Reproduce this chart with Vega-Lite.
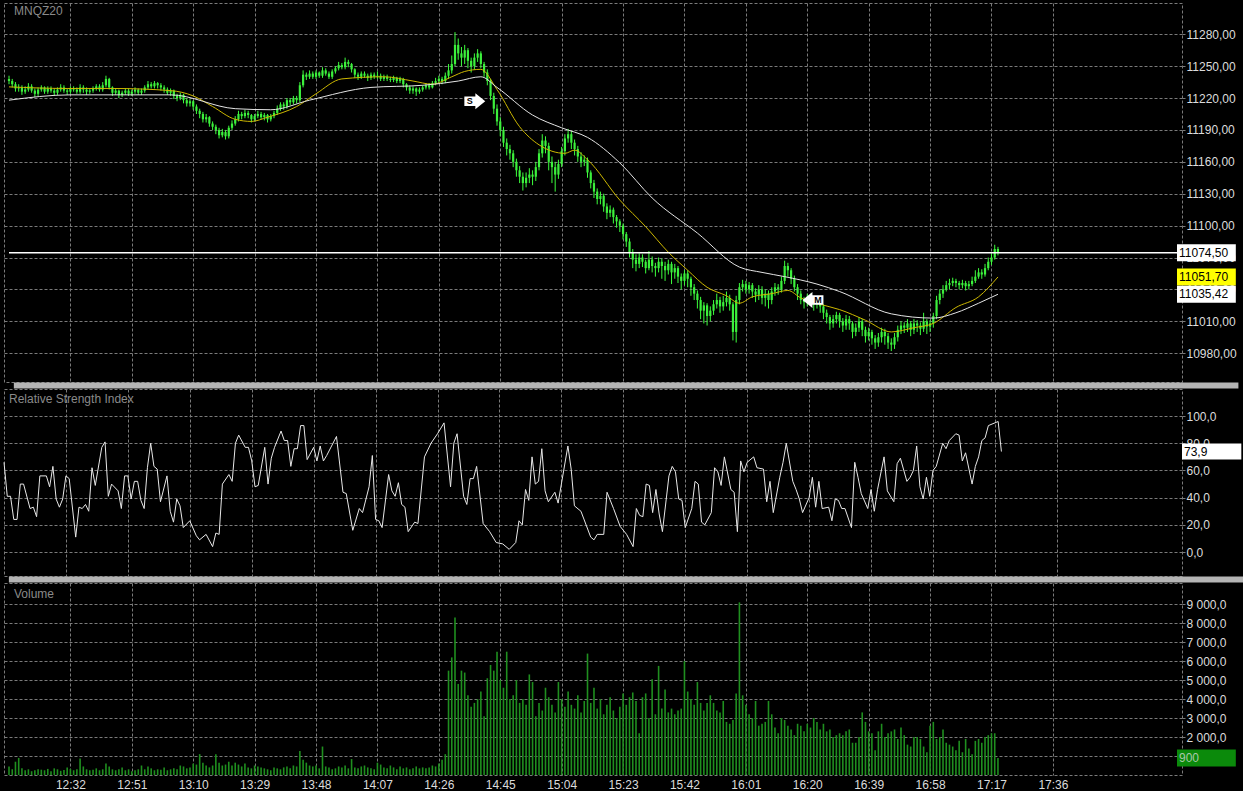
{
"$schema": "https://vega.github.io/schema/vega-lite/v6.json",
"background": "#000000",
"padding": {"left": 1, "top": 2, "right": 0, "bottom": 0},
"bounds": "flush",
"spacing": 7,
"config": {
  "view": {"stroke": "#7a7a7a", "strokeDash": [3, 2], "strokeWidth": 1},
  "axis": {"gridColor": "#7a7a7a", "gridDash": [3, 2], "gridWidth": 1, "gridOpacity": 1, "labelFont": "Liberation Sans", "labelFontSize": 12, "labelColor": "#dcdcdc", "domain": false, "ticks": false, "labelFlush": false, "labelOverlap": false, "labelBound": false},
  "text": {"font": "Liberation Sans"}
},
"datasets": {
"candles": [
{"t":733,"o":11238,"h":11241,"l":11233,"c":11236,"v":450},
{"t":734,"o":11236,"h":11238,"l":11230,"c":11233,"v":300},
{"t":735,"o":11233,"h":11235,"l":11226,"c":11229,"v":700},
{"t":736,"o":11229,"h":11233,"l":11226,"c":11230,"v":900},
{"t":737,"o":11230,"h":11232,"l":11223,"c":11226,"v":350},
{"t":738,"o":11226,"h":11231,"l":11224,"c":11228,"v":250},
{"t":739,"o":11228,"h":11234,"l":11226,"c":11231,"v":300},
{"t":740,"o":11231,"h":11233,"l":11225,"c":11227,"v":200},
{"t":741,"o":11227,"h":11229,"l":11221,"c":11224,"v":250},
{"t":742,"o":11224,"h":11230,"l":11222,"c":11228,"v":300},
{"t":743,"o":11228,"h":11232,"l":11226,"c":11230,"v":280},
{"t":744,"o":11230,"h":11231,"l":11224,"c":11226,"v":250},
{"t":745,"o":11226,"h":11231,"l":11224,"c":11229,"v":320},
{"t":746,"o":11229,"h":11231,"l":11225,"c":11227,"v":200},
{"t":747,"o":11227,"h":11229,"l":11222,"c":11225,"v":350},
{"t":748,"o":11225,"h":11230,"l":11223,"c":11228,"v":300},
{"t":749,"o":11228,"h":11233,"l":11226,"c":11230,"v":220},
{"t":750,"o":11230,"h":11232,"l":11225,"c":11227,"v":260},
{"t":751,"o":11227,"h":11229,"l":11223,"c":11226,"v":400},
{"t":752,"o":11226,"h":11231,"l":11224,"c":11229,"v":320},
{"t":753,"o":11229,"h":11231,"l":11226,"c":11228,"v":250},
{"t":754,"o":11228,"h":11230,"l":11224,"c":11226,"v":300},
{"t":755,"o":11226,"h":11233,"l":11224,"c":11230,"v":870},
{"t":756,"o":11230,"h":11232,"l":11225,"c":11228,"v":450},
{"t":757,"o":11228,"h":11230,"l":11223,"c":11226,"v":300},
{"t":758,"o":11226,"h":11229,"l":11224,"c":11227,"v":250},
{"t":759,"o":11227,"h":11231,"l":11225,"c":11229,"v":280},
{"t":760,"o":11229,"h":11233,"l":11227,"c":11231,"v":350},
{"t":761,"o":11231,"h":11233,"l":11226,"c":11228,"v":250},
{"t":762,"o":11228,"h":11235,"l":11226,"c":11232,"v":300},
{"t":763,"o":11232,"h":11241,"l":11230,"c":11238,"v":600},
{"t":764,"o":11238,"h":11239,"l":11228,"c":11230,"v":450},
{"t":765,"o":11230,"h":11231,"l":11222,"c":11225,"v":300},
{"t":766,"o":11225,"h":11229,"l":11223,"c":11227,"v":250},
{"t":767,"o":11227,"h":11228,"l":11220,"c":11223,"v":300},
{"t":768,"o":11223,"h":11227,"l":11221,"c":11225,"v":400},
{"t":769,"o":11225,"h":11229,"l":11223,"c":11227,"v":250},
{"t":770,"o":11227,"h":11229,"l":11222,"c":11224,"v":300},
{"t":771,"o":11224,"h":11228,"l":11222,"c":11226,"v":200},
{"t":772,"o":11226,"h":11230,"l":11224,"c":11228,"v":250},
{"t":773,"o":11228,"h":11229,"l":11223,"c":11225,"v":300},
{"t":774,"o":11225,"h":11229,"l":11223,"c":11227,"v":500},
{"t":775,"o":11227,"h":11232,"l":11225,"c":11230,"v":300},
{"t":776,"o":11230,"h":11236,"l":11228,"c":11233,"v":450},
{"t":777,"o":11233,"h":11235,"l":11229,"c":11231,"v":350},
{"t":778,"o":11231,"h":11236,"l":11229,"c":11234,"v":250},
{"t":779,"o":11234,"h":11235,"l":11229,"c":11232,"v":300},
{"t":780,"o":11232,"h":11234,"l":11227,"c":11230,"v":280},
{"t":781,"o":11230,"h":11232,"l":11225,"c":11228,"v":400},
{"t":782,"o":11228,"h":11230,"l":11223,"c":11225,"v":250},
{"t":783,"o":11225,"h":11229,"l":11222,"c":11227,"v":300},
{"t":784,"o":11227,"h":11228,"l":11219,"c":11222,"v":350},
{"t":785,"o":11222,"h":11224,"l":11217,"c":11220,"v":300},
{"t":786,"o":11220,"h":11225,"l":11218,"c":11223,"v":500},
{"t":787,"o":11223,"h":11224,"l":11215,"c":11218,"v":450},
{"t":788,"o":11218,"h":11220,"l":11212,"c":11215,"v":350},
{"t":789,"o":11215,"h":11219,"l":11212,"c":11217,"v":400},
{"t":790,"o":11217,"h":11218,"l":11209,"c":11212,"v":600},
{"t":791,"o":11212,"h":11214,"l":11205,"c":11208,"v":550},
{"t":792,"o":11208,"h":11210,"l":11201,"c":11205,"v":1100},
{"t":793,"o":11205,"h":11207,"l":11197,"c":11200,"v":650},
{"t":794,"o":11200,"h":11205,"l":11197,"c":11202,"v":500},
{"t":795,"o":11202,"h":11203,"l":11193,"c":11196,"v":400},
{"t":796,"o":11196,"h":11198,"l":11190,"c":11193,"v":500},
{"t":797,"o":11193,"h":11195,"l":11186,"c":11190,"v":1100},
{"t":798,"o":11190,"h":11192,"l":11182,"c":11185,"v":650},
{"t":799,"o":11185,"h":11191,"l":11183,"c":11188,"v":500},
{"t":800,"o":11188,"h":11190,"l":11181,"c":11184,"v":550},
{"t":801,"o":11184,"h":11194,"l":11182,"c":11192,"v":700},
{"t":802,"o":11192,"h":11199,"l":11190,"c":11196,"v":500},
{"t":803,"o":11196,"h":11203,"l":11194,"c":11200,"v":650},
{"t":804,"o":11200,"h":11208,"l":11198,"c":11205,"v":550},
{"t":805,"o":11205,"h":11207,"l":11200,"c":11203,"v":450},
{"t":806,"o":11203,"h":11209,"l":11201,"c":11206,"v":600},
{"t":807,"o":11206,"h":11208,"l":11201,"c":11204,"v":400},
{"t":808,"o":11204,"h":11205,"l":11197,"c":11200,"v":350},
{"t":809,"o":11200,"h":11205,"l":11198,"c":11203,"v":500},
{"t":810,"o":11203,"h":11208,"l":11201,"c":11205,"v":450},
{"t":811,"o":11205,"h":11207,"l":11200,"c":11202,"v":400},
{"t":812,"o":11202,"h":11206,"l":11199,"c":11204,"v":350},
{"t":813,"o":11204,"h":11205,"l":11197,"c":11200,"v":300},
{"t":814,"o":11200,"h":11205,"l":11198,"c":11203,"v":250},
{"t":815,"o":11203,"h":11208,"l":11201,"c":11206,"v":400},
{"t":816,"o":11206,"h":11213,"l":11204,"c":11210,"v":350},
{"t":817,"o":11210,"h":11216,"l":11208,"c":11214,"v":300},
{"t":818,"o":11214,"h":11216,"l":11209,"c":11212,"v":400},
{"t":819,"o":11212,"h":11220,"l":11210,"c":11218,"v":450},
{"t":820,"o":11218,"h":11220,"l":11213,"c":11216,"v":350},
{"t":821,"o":11216,"h":11222,"l":11214,"c":11220,"v":500},
{"t":822,"o":11220,"h":11222,"l":11215,"c":11218,"v":450},
{"t":823,"o":11218,"h":11235,"l":11216,"c":11232,"v":1270},
{"t":824,"o":11232,"h":11246,"l":11230,"c":11242,"v":800},
{"t":825,"o":11242,"h":11244,"l":11237,"c":11240,"v":650},
{"t":826,"o":11240,"h":11246,"l":11238,"c":11243,"v":500},
{"t":827,"o":11243,"h":11245,"l":11238,"c":11240,"v":450},
{"t":828,"o":11240,"h":11246,"l":11238,"c":11244,"v":500},
{"t":829,"o":11244,"h":11245,"l":11239,"c":11241,"v":350},
{"t":830,"o":11241,"h":11249,"l":11239,"c":11246,"v":1500},
{"t":831,"o":11246,"h":11248,"l":11241,"c":11243,"v":450},
{"t":832,"o":11243,"h":11245,"l":11238,"c":11240,"v":400},
{"t":833,"o":11240,"h":11247,"l":11238,"c":11245,"v":300},
{"t":834,"o":11245,"h":11250,"l":11243,"c":11248,"v":350},
{"t":835,"o":11248,"h":11254,"l":11246,"c":11251,"v":450},
{"t":836,"o":11251,"h":11253,"l":11247,"c":11249,"v":400},
{"t":837,"o":11249,"h":11258,"l":11247,"c":11254,"v":500},
{"t":838,"o":11254,"h":11256,"l":11249,"c":11252,"v":350},
{"t":839,"o":11252,"h":11253,"l":11244,"c":11247,"v":840},
{"t":840,"o":11247,"h":11248,"l":11239,"c":11242,"v":400},
{"t":841,"o":11242,"h":11244,"l":11237,"c":11240,"v":350},
{"t":842,"o":11240,"h":11245,"l":11238,"c":11243,"v":450},
{"t":843,"o":11243,"h":11245,"l":11239,"c":11241,"v":500},
{"t":844,"o":11241,"h":11243,"l":11236,"c":11239,"v":400},
{"t":845,"o":11239,"h":11244,"l":11237,"c":11242,"v":350},
{"t":846,"o":11242,"h":11244,"l":11238,"c":11240,"v":300},
{"t":847,"o":11240,"h":11245,"l":11238,"c":11241,"v":650},
{"t":848,"o":11241,"h":11243,"l":11236,"c":11238,"v":550},
{"t":849,"o":11238,"h":11242,"l":11236,"c":11240,"v":400},
{"t":850,"o":11240,"h":11242,"l":11236,"c":11238,"v":350},
{"t":851,"o":11238,"h":11240,"l":11235,"c":11237,"v":500},
{"t":852,"o":11237,"h":11241,"l":11235,"c":11239,"v":400},
{"t":853,"o":11239,"h":11240,"l":11234,"c":11236,"v":300},
{"t":854,"o":11236,"h":11240,"l":11234,"c":11238,"v":450},
{"t":855,"o":11238,"h":11239,"l":11230,"c":11233,"v":350},
{"t":856,"o":11233,"h":11234,"l":11227,"c":11230,"v":400},
{"t":857,"o":11230,"h":11232,"l":11224,"c":11227,"v":300},
{"t":858,"o":11227,"h":11231,"l":11224,"c":11229,"v":350},
{"t":859,"o":11229,"h":11230,"l":11222,"c":11226,"v":450},
{"t":860,"o":11226,"h":11230,"l":11224,"c":11228,"v":350},
{"t":861,"o":11228,"h":11232,"l":11226,"c":11230,"v":400},
{"t":862,"o":11230,"h":11234,"l":11228,"c":11232,"v":350},
{"t":863,"o":11232,"h":11234,"l":11228,"c":11230,"v":400},
{"t":864,"o":11230,"h":11236,"l":11229,"c":11234,"v":500},
{"t":865,"o":11234,"h":11239,"l":11232,"c":11236,"v":450},
{"t":866,"o":11236,"h":11241,"l":11234,"c":11238,"v":600},
{"t":867,"o":11238,"h":11240,"l":11233,"c":11236,"v":800},
{"t":868,"o":11236,"h":11244,"l":11234,"c":11241,"v":1100},
{"t":869,"o":11241,"h":11252,"l":11238,"c":11246,"v":5500},
{"t":870,"o":11246,"h":11260,"l":11243,"c":11252,"v":6200},
{"t":871,"o":11252,"h":11282,"l":11250,"c":11270,"v":8300},
{"t":872,"o":11270,"h":11276,"l":11256,"c":11262,"v":4800},
{"t":873,"o":11262,"h":11268,"l":11250,"c":11258,"v":5500},
{"t":874,"o":11258,"h":11270,"l":11252,"c":11265,"v":5400},
{"t":875,"o":11265,"h":11267,"l":11248,"c":11255,"v":4200},
{"t":876,"o":11255,"h":11258,"l":11244,"c":11250,"v":3600},
{"t":877,"o":11250,"h":11262,"l":11247,"c":11258,"v":3800},
{"t":878,"o":11258,"h":11266,"l":11254,"c":11262,"v":4000},
{"t":879,"o":11262,"h":11264,"l":11248,"c":11252,"v":4400},
{"t":880,"o":11252,"h":11254,"l":11240,"c":11244,"v":3100},
{"t":881,"o":11244,"h":11247,"l":11232,"c":11236,"v":5100},
{"t":882,"o":11236,"h":11238,"l":11218,"c":11222,"v":5800},
{"t":883,"o":11222,"h":11225,"l":11205,"c":11210,"v":5500},
{"t":884,"o":11210,"h":11214,"l":11194,"c":11198,"v":6500},
{"t":885,"o":11198,"h":11202,"l":11184,"c":11190,"v":5000},
{"t":886,"o":11190,"h":11193,"l":11174,"c":11178,"v":4600},
{"t":887,"o":11178,"h":11182,"l":11166,"c":11172,"v":6500},
{"t":888,"o":11172,"h":11176,"l":11162,"c":11168,"v":4000},
{"t":889,"o":11168,"h":11171,"l":11155,"c":11160,"v":4200},
{"t":890,"o":11160,"h":11163,"l":11146,"c":11152,"v":5000},
{"t":891,"o":11152,"h":11156,"l":11140,"c":11146,"v":3800},
{"t":892,"o":11146,"h":11150,"l":11133,"c":11140,"v":4000},
{"t":893,"o":11140,"h":11150,"l":11136,"c":11145,"v":3700},
{"t":894,"o":11145,"h":11154,"l":11140,"c":11148,"v":5300},
{"t":895,"o":11148,"h":11152,"l":11138,"c":11146,"v":4900},
{"t":896,"o":11146,"h":11160,"l":11142,"c":11155,"v":3100},
{"t":897,"o":11155,"h":11172,"l":11152,"c":11168,"v":3800},
{"t":898,"o":11168,"h":11186,"l":11164,"c":11180,"v":3400},
{"t":899,"o":11180,"h":11184,"l":11168,"c":11175,"v":4600},
{"t":900,"o":11175,"h":11178,"l":11152,"c":11160,"v":4100},
{"t":901,"o":11160,"h":11165,"l":11140,"c":11155,"v":3700},
{"t":902,"o":11155,"h":11160,"l":11132,"c":11148,"v":3300},
{"t":903,"o":11148,"h":11162,"l":11144,"c":11158,"v":4900},
{"t":904,"o":11158,"h":11174,"l":11155,"c":11170,"v":4000},
{"t":905,"o":11170,"h":11186,"l":11166,"c":11182,"v":3600},
{"t":906,"o":11182,"h":11191,"l":11178,"c":11186,"v":4400},
{"t":907,"o":11186,"h":11189,"l":11172,"c":11178,"v":3700},
{"t":908,"o":11178,"h":11181,"l":11166,"c":11172,"v":3500},
{"t":909,"o":11172,"h":11175,"l":11160,"c":11165,"v":4200},
{"t":910,"o":11165,"h":11169,"l":11155,"c":11160,"v":3300},
{"t":911,"o":11160,"h":11166,"l":11156,"c":11162,"v":3900},
{"t":912,"o":11162,"h":11164,"l":11145,"c":11150,"v":6400},
{"t":913,"o":11150,"h":11152,"l":11135,"c":11140,"v":3800},
{"t":914,"o":11140,"h":11143,"l":11126,"c":11132,"v":4600},
{"t":915,"o":11132,"h":11135,"l":11120,"c":11125,"v":3500},
{"t":916,"o":11125,"h":11132,"l":11120,"c":11128,"v":4000},
{"t":917,"o":11128,"h":11130,"l":11113,"c":11118,"v":3200},
{"t":918,"o":11118,"h":11121,"l":11106,"c":11112,"v":3700},
{"t":919,"o":11112,"h":11119,"l":11108,"c":11115,"v":4100},
{"t":920,"o":11115,"h":11117,"l":11102,"c":11108,"v":3400},
{"t":921,"o":11108,"h":11110,"l":11098,"c":11104,"v":3000},
{"t":922,"o":11104,"h":11106,"l":11094,"c":11100,"v":3600},
{"t":923,"o":11100,"h":11102,"l":11087,"c":11092,"v":4300},
{"t":924,"o":11092,"h":11094,"l":11080,"c":11085,"v":3700},
{"t":925,"o":11085,"h":11088,"l":11070,"c":11075,"v":4100},
{"t":926,"o":11075,"h":11078,"l":11060,"c":11068,"v":4350},
{"t":927,"o":11068,"h":11073,"l":11057,"c":11064,"v":3900},
{"t":928,"o":11064,"h":11074,"l":11060,"c":11070,"v":2200},
{"t":929,"o":11070,"h":11073,"l":11061,"c":11066,"v":4100},
{"t":930,"o":11066,"h":11068,"l":11055,"c":11060,"v":4300},
{"t":931,"o":11060,"h":11076,"l":11058,"c":11068,"v":3000},
{"t":932,"o":11068,"h":11071,"l":11056,"c":11062,"v":5050},
{"t":933,"o":11062,"h":11065,"l":11052,"c":11060,"v":3200},
{"t":934,"o":11060,"h":11070,"l":11056,"c":11066,"v":5750},
{"t":935,"o":11066,"h":11069,"l":11050,"c":11062,"v":3500},
{"t":936,"o":11062,"h":11066,"l":11048,"c":11058,"v":4500},
{"t":937,"o":11058,"h":11068,"l":11054,"c":11064,"v":3300},
{"t":938,"o":11064,"h":11066,"l":11045,"c":11056,"v":3500},
{"t":939,"o":11056,"h":11064,"l":11050,"c":11060,"v":3200},
{"t":940,"o":11060,"h":11062,"l":11046,"c":11052,"v":3400},
{"t":941,"o":11052,"h":11055,"l":11040,"c":11048,"v":3500},
{"t":942,"o":11048,"h":11058,"l":11044,"c":11055,"v":6000},
{"t":943,"o":11055,"h":11058,"l":11042,"c":11050,"v":4400},
{"t":944,"o":11050,"h":11052,"l":11034,"c":11042,"v":4000},
{"t":945,"o":11042,"h":11045,"l":11030,"c":11036,"v":3700},
{"t":946,"o":11036,"h":11039,"l":11022,"c":11030,"v":4900},
{"t":947,"o":11030,"h":11033,"l":11012,"c":11020,"v":3800},
{"t":948,"o":11020,"h":11028,"l":11008,"c":11025,"v":3400},
{"t":949,"o":11025,"h":11027,"l":11006,"c":11015,"v":3800},
{"t":950,"o":11015,"h":11024,"l":11010,"c":11020,"v":4200},
{"t":951,"o":11020,"h":11030,"l":11016,"c":11026,"v":3800},
{"t":952,"o":11026,"h":11036,"l":11022,"c":11030,"v":3400},
{"t":953,"o":11030,"h":11033,"l":11018,"c":11024,"v":3300},
{"t":954,"o":11024,"h":11034,"l":11020,"c":11028,"v":3900},
{"t":955,"o":11028,"h":11038,"l":11024,"c":11032,"v":2800},
{"t":956,"o":11032,"h":11035,"l":11020,"c":11026,"v":2700},
{"t":957,"o":11026,"h":11028,"l":10992,"c":11000,"v":2900},
{"t":958,"o":11000,"h":11034,"l":10990,"c":11030,"v":4300},
{"t":959,"o":11030,"h":11046,"l":11026,"c":11042,"v":9100},
{"t":960,"o":11042,"h":11049,"l":11038,"c":11045,"v":4200},
{"t":961,"o":11045,"h":11048,"l":11036,"c":11040,"v":3700},
{"t":962,"o":11040,"h":11047,"l":11036,"c":11044,"v":3200},
{"t":963,"o":11044,"h":11046,"l":11032,"c":11038,"v":3000},
{"t":964,"o":11038,"h":11041,"l":11028,"c":11035,"v":3900},
{"t":965,"o":11035,"h":11044,"l":11030,"c":11040,"v":2600},
{"t":966,"o":11040,"h":11043,"l":11026,"c":11032,"v":2700},
{"t":967,"o":11032,"h":11040,"l":11024,"c":11036,"v":2800},
{"t":968,"o":11036,"h":11039,"l":11022,"c":11030,"v":3900},
{"t":969,"o":11030,"h":11042,"l":11026,"c":11038,"v":3200},
{"t":970,"o":11038,"h":11046,"l":11034,"c":11042,"v":2500},
{"t":971,"o":11042,"h":11045,"l":11035,"c":11040,"v":2200},
{"t":972,"o":11040,"h":11052,"l":11037,"c":11048,"v":3000},
{"t":973,"o":11048,"h":11067,"l":11045,"c":11062,"v":2900},
{"t":974,"o":11062,"h":11065,"l":11052,"c":11058,"v":2600},
{"t":975,"o":11058,"h":11060,"l":11045,"c":11050,"v":2400},
{"t":976,"o":11050,"h":11053,"l":11038,"c":11042,"v":2100},
{"t":977,"o":11042,"h":11045,"l":11030,"c":11036,"v":2700},
{"t":978,"o":11036,"h":11039,"l":11026,"c":11030,"v":2600},
{"t":979,"o":11030,"h":11033,"l":11022,"c":11028,"v":2300},
{"t":980,"o":11028,"h":11036,"l":11024,"c":11033,"v":2700},
{"t":981,"o":11033,"h":11036,"l":11025,"c":11030,"v":2500},
{"t":982,"o":11030,"h":11032,"l":11020,"c":11026,"v":3000},
{"t":983,"o":11026,"h":11033,"l":11022,"c":11028,"v":2800},
{"t":984,"o":11028,"h":11030,"l":11018,"c":11024,"v":2400},
{"t":985,"o":11024,"h":11026,"l":11012,"c":11018,"v":2700},
{"t":986,"o":11018,"h":11021,"l":11008,"c":11014,"v":2300},
{"t":987,"o":11014,"h":11016,"l":11002,"c":11008,"v":2400},
{"t":988,"o":11008,"h":11016,"l":11004,"c":11012,"v":2000},
{"t":989,"o":11012,"h":11019,"l":11008,"c":11016,"v":2100},
{"t":990,"o":11016,"h":11018,"l":11004,"c":11010,"v":2200},
{"t":991,"o":11010,"h":11013,"l":11000,"c":11006,"v":2100},
{"t":992,"o":11006,"h":11016,"l":11002,"c":11012,"v":2300},
{"t":993,"o":11012,"h":11015,"l":11002,"c":11008,"v":2400},
{"t":994,"o":11008,"h":11010,"l":10994,"c":11000,"v":1700},
{"t":995,"o":11000,"h":11008,"l":10996,"c":11004,"v":1700},
{"t":996,"o":11004,"h":11014,"l":11000,"c":11010,"v":2000},
{"t":997,"o":11010,"h":11012,"l":10996,"c":11002,"v":3300},
{"t":998,"o":11002,"h":11005,"l":10990,"c":10996,"v":2800},
{"t":999,"o":10996,"h":11004,"l":10992,"c":11000,"v":2300},
{"t":1000,"o":11000,"h":11002,"l":10988,"c":10994,"v":2200},
{"t":1001,"o":10994,"h":10997,"l":10984,"c":10990,"v":1300},
{"t":1002,"o":10990,"h":10999,"l":10986,"c":10995,"v":2300},
{"t":1003,"o":10995,"h":11004,"l":10990,"c":11000,"v":2700},
{"t":1004,"o":11000,"h":11003,"l":10988,"c":10996,"v":2000},
{"t":1005,"o":10996,"h":10999,"l":10984,"c":10990,"v":2200},
{"t":1006,"o":10990,"h":10994,"l":10982,"c":10988,"v":2300},
{"t":1007,"o":10988,"h":10999,"l":10984,"c":10995,"v":2400},
{"t":1008,"o":10995,"h":11006,"l":10991,"c":11002,"v":1900},
{"t":1009,"o":11002,"h":11010,"l":10998,"c":11006,"v":2500},
{"t":1010,"o":11006,"h":11009,"l":10999,"c":11004,"v":2100},
{"t":1011,"o":11004,"h":11012,"l":11000,"c":11008,"v":1600},
{"t":1012,"o":11008,"h":11010,"l":10996,"c":11002,"v":1500},
{"t":1013,"o":11002,"h":11012,"l":10998,"c":11008,"v":2000},
{"t":1014,"o":11008,"h":11011,"l":11000,"c":11006,"v":2000},
{"t":1015,"o":11006,"h":11009,"l":10997,"c":11003,"v":1900},
{"t":1016,"o":11003,"h":11018,"l":11000,"c":11010,"v":1500},
{"t":1017,"o":11010,"h":11012,"l":10998,"c":11005,"v":1200},
{"t":1018,"o":11005,"h":11011,"l":11000,"c":11008,"v":2600},
{"t":1019,"o":11008,"h":11018,"l":11004,"c":11015,"v":2800},
{"t":1020,"o":11015,"h":11034,"l":11012,"c":11030,"v":1900},
{"t":1021,"o":11030,"h":11040,"l":11026,"c":11036,"v":2000},
{"t":1022,"o":11036,"h":11044,"l":11032,"c":11040,"v":2400},
{"t":1023,"o":11040,"h":11048,"l":11038,"c":11044,"v":1700},
{"t":1024,"o":11044,"h":11050,"l":11040,"c":11046,"v":1600},
{"t":1025,"o":11046,"h":11051,"l":11043,"c":11048,"v":1500},
{"t":1026,"o":11048,"h":11050,"l":11042,"c":11046,"v":1300},
{"t":1027,"o":11046,"h":11048,"l":11040,"c":11044,"v":1800},
{"t":1028,"o":11044,"h":11049,"l":11041,"c":11046,"v":1200},
{"t":1029,"o":11046,"h":11048,"l":11039,"c":11043,"v":1900},
{"t":1030,"o":11043,"h":11048,"l":11040,"c":11045,"v":1400},
{"t":1031,"o":11045,"h":11052,"l":11043,"c":11048,"v":1100},
{"t":1032,"o":11048,"h":11058,"l":11046,"c":11052,"v":1800},
{"t":1033,"o":11052,"h":11060,"l":11050,"c":11056,"v":1900},
{"t":1034,"o":11056,"h":11059,"l":11050,"c":11054,"v":1700},
{"t":1035,"o":11054,"h":11064,"l":11052,"c":11060,"v":2000},
{"t":1036,"o":11060,"h":11070,"l":11058,"c":11066,"v":2100},
{"t":1037,"o":11066,"h":11074,"l":11063,"c":11070,"v":2200},
{"t":1038,"o":11070,"h":11082,"l":11068,"c":11078,"v":2200},
{"t":1039,"o":11078,"h":11080,"l":11072,"c":11074.5,"v":900}
],
"rsi": [
{"t":733,"r":66},{"t":734,"r":41},{"t":735,"r":41},{"t":736,"r":24},{"t":737,"r":24},{"t":738,"r":50},{"t":739,"r":50},{"t":741,"r":32},{"t":742,"r":33},{"t":743,"r":26},{"t":744,"r":56},{"t":746,"r":56},{"t":747,"r":48},{"t":748,"r":63},{"t":749,"r":39},{"t":750,"r":33},{"t":751,"r":39},{"t":752,"r":56},{"t":753,"r":54},{"t":755,"r":11},{"t":756,"r":33},{"t":757,"r":32},{"t":758,"r":35},{"t":759,"r":30},{"t":760,"r":62},{"t":761,"r":49},{"t":763,"r":77},{"t":764,"r":81},{"t":765,"r":41},{"t":766,"r":50},{"t":768,"r":45},{"t":769,"r":32},{"t":770,"r":56},{"t":771,"r":56},{"t":772,"r":39},{"t":773,"r":52},{"t":774,"r":52},{"t":775,"r":38},{"t":776,"r":32},{"t":777,"r":62},{"t":778,"r":80},{"t":779,"r":63},{"t":780,"r":61},{"t":781,"r":37},{"t":783,"r":56},{"t":784,"r":30},{"t":785,"r":22},{"t":786,"r":39},{"t":787,"r":34},{"t":788,"r":18},{"t":790,"r":23},{"t":792,"r":12},{"t":793,"r":9},{"t":795,"r":13},{"t":797,"r":4},{"t":798,"r":14},{"t":799,"r":13},{"t":800,"r":50},{"t":802,"r":57},{"t":803,"r":52},{"t":804,"r":80},{"t":805,"r":86},{"t":807,"r":77},{"t":808,"r":77},{"t":809,"r":67},{"t":810,"r":48},{"t":811,"r":49},{"t":813,"r":77},{"t":814,"r":50},{"t":815,"r":69},{"t":816,"r":77},{"t":818,"r":89},{"t":819,"r":82},{"t":820,"r":82},{"t":821,"r":63},{"t":822,"r":76},{"t":823,"r":76},{"t":824,"r":93},{"t":825,"r":93},{"t":826,"r":68},{"t":828,"r":77},{"t":829,"r":67},{"t":830,"r":78},{"t":831,"r":67},{"t":832,"r":71},{"t":835,"r":85},{"t":837,"r":44},{"t":838,"r":43},{"t":840,"r":16},{"t":842,"r":32},{"t":843,"r":29},{"t":845,"r":48},{"t":846,"r":71},{"t":847,"r":24},{"t":848,"r":23},{"t":849,"r":18},{"t":851,"r":57},{"t":852,"r":45},{"t":853,"r":41},{"t":854,"r":51},{"t":855,"r":35},{"t":856,"r":33},{"t":857,"r":15},{"t":859,"r":22},{"t":860,"r":21},{"t":862,"r":70},{"t":864,"r":80},{"t":866,"r":87},{"t":868,"r":95},{"t":870,"r":48},{"t":871,"r":80},{"t":872,"r":87},{"t":874,"r":41},{"t":875,"r":35},{"t":876,"r":54},{"t":877,"r":54},{"t":878,"r":63},{"t":880,"r":21},{"t":882,"r":15},{"t":884,"r":7},{"t":886,"r":6},{"t":888,"r":2},{"t":890,"r":7},{"t":891,"r":23},{"t":892,"r":20},{"t":893,"r":46},{"t":894,"r":38},{"t":895,"r":70},{"t":896,"r":50},{"t":897,"r":52},{"t":898,"r":76},{"t":899,"r":45},{"t":900,"r":37},{"t":902,"r":44},{"t":903,"r":36},{"t":906,"r":78},{"t":907,"r":61},{"t":908,"r":34},{"t":910,"r":30},{"t":913,"r":11},{"t":914,"r":9},{"t":915,"r":13},{"t":917,"r":13},{"t":918,"r":44},{"t":920,"r":32},{"t":922,"r":19},{"t":924,"r":13},{"t":926,"r":4},{"t":927,"r":32},{"t":928,"r":27},{"t":929,"r":26},{"t":930,"r":50},{"t":931,"r":49},{"t":932,"r":29},{"t":933,"r":46},{"t":934,"r":28},{"t":935,"r":15},{"t":937,"r":56},{"t":938,"r":63},{"t":939,"r":59},{"t":940,"r":39},{"t":941,"r":38},{"t":942,"r":18},{"t":944,"r":32},{"t":945,"r":52},{"t":946,"r":50},{"t":947,"r":22},{"t":948,"r":20},{"t":950,"r":29},{"t":951,"r":62},{"t":952,"r":59},{"t":953,"r":49},{"t":954,"r":70},{"t":956,"r":46},{"t":957,"r":44},{"t":958,"r":15},{"t":959,"r":67},{"t":960,"r":59},{"t":961,"r":66},{"t":963,"r":70},{"t":964,"r":62},{"t":966,"r":61},{"t":967,"r":37},{"t":968,"r":52},{"t":969,"r":29},{"t":971,"r":55},{"t":972,"r":66},{"t":973,"r":80},{"t":975,"r":52},{"t":976,"r":46},{"t":977,"r":39},{"t":978,"r":29},{"t":980,"r":40},{"t":981,"r":55},{"t":982,"r":33},{"t":983,"r":52},{"t":984,"r":32},{"t":986,"r":33},{"t":987,"r":23},{"t":988,"r":39},{"t":989,"r":38},{"t":990,"r":32},{"t":991,"r":32},{"t":993,"r":18},{"t":994,"r":66},{"t":995,"r":55},{"t":996,"r":43},{"t":998,"r":32},{"t":999,"r":46},{"t":1000,"r":30},{"t":1001,"r":46},{"t":1003,"r":70},{"t":1004,"r":45},{"t":1006,"r":37},{"t":1007,"r":65},{"t":1008,"r":69},{"t":1010,"r":52},{"t":1011,"r":55},{"t":1012,"r":60},{"t":1013,"r":78},{"t":1014,"r":48},{"t":1015,"r":39},{"t":1016,"r":55},{"t":1017,"r":41},{"t":1018,"r":60},{"t":1019,"r":63},{"t":1021,"r":80},{"t":1022,"r":76},{"t":1023,"r":82},{"t":1025,"r":87},{"t":1026,"r":86},{"t":1027,"r":67},{"t":1028,"r":73},{"t":1030,"r":50},{"t":1031,"r":63},{"t":1032,"r":70},{"t":1033,"r":82},{"t":1034,"r":84},{"t":1035,"r":93},{"t":1038,"r":96},{"t":1039,"r":73.9}
],
"ma": [
{"t":733,"p":11230.5,"s":"fast"},{"t":751,"p":11229,"s":"fast"},{"t":765,"p":11229,"s":"fast"},{"t":783,"p":11227,"s":"fast"},{"t":790,"p":11222,"s":"fast"},{"t":796,"p":11212,"s":"fast"},{"t":803,"p":11200,"s":"fast"},{"t":808,"p":11198,"s":"fast"},{"t":813,"p":11202,"s":"fast"},{"t":822,"p":11212,"s":"fast"},{"t":828,"p":11224,"s":"fast"},{"t":836,"p":11238,"s":"fast"},{"t":849,"p":11240,"s":"fast"},{"t":858,"p":11236,"s":"fast"},{"t":864,"p":11233,"s":"fast"},{"t":870,"p":11240,"s":"fast"},{"t":874,"p":11245,"s":"fast"},{"t":879,"p":11247,"s":"fast"},{"t":884,"p":11228,"s":"fast"},{"t":891,"p":11193,"s":"fast"},{"t":897,"p":11176,"s":"fast"},{"t":905,"p":11168,"s":"fast"},{"t":908,"p":11171,"s":"fast"},{"t":912,"p":11162,"s":"fast"},{"t":922,"p":11124,"s":"fast"},{"t":930,"p":11099,"s":"fast"},{"t":937,"p":11075,"s":"fast"},{"t":943,"p":11058,"s":"fast"},{"t":949,"p":11042,"s":"fast"},{"t":955,"p":11034,"s":"fast"},{"t":959,"p":11027,"s":"fast"},{"t":963,"p":11033,"s":"fast"},{"t":969,"p":11036,"s":"fast"},{"t":974,"p":11039,"s":"fast"},{"t":978,"p":11032,"s":"fast"},{"t":984,"p":11026,"s":"fast"},{"t":990,"p":11021,"s":"fast"},{"t":998,"p":11011,"s":"fast"},{"t":1006,"p":11000,"s":"fast"},{"t":1013,"p":11004,"s":"fast"},{"t":1019,"p":11008,"s":"fast"},{"t":1026,"p":11023,"s":"fast"},{"t":1033,"p":11033,"s":"fast"},{"t":1039,"p":11051.7,"s":"fast"},
{"t":733,"p":11218,"s":"slow"},{"t":752,"p":11223,"s":"slow"},{"t":783,"p":11223,"s":"slow"},{"t":803,"p":11210,"s":"slow"},{"t":814,"p":11209,"s":"slow"},{"t":826,"p":11218,"s":"slow"},{"t":845,"p":11230,"s":"slow"},{"t":861,"p":11232,"s":"slow"},{"t":872,"p":11236,"s":"slow"},{"t":879,"p":11240,"s":"slow"},{"t":884,"p":11230,"s":"slow"},{"t":895,"p":11204,"s":"slow"},{"t":904,"p":11192,"s":"slow"},{"t":912,"p":11183,"s":"slow"},{"t":922,"p":11159,"s":"slow"},{"t":932,"p":11126,"s":"slow"},{"t":946,"p":11093,"s":"slow"},{"t":959,"p":11061,"s":"slow"},{"t":966,"p":11056,"s":"slow"},{"t":973,"p":11052,"s":"slow"},{"t":983,"p":11045,"s":"slow"},{"t":990,"p":11038,"s":"slow"},{"t":1006,"p":11017,"s":"slow"},{"t":1019,"p":11013,"s":"slow"},{"t":1026,"p":11018,"s":"slow"},{"t":1033,"p":11027,"s":"slow"},{"t":1039,"p":11035.42,"s":"slow"}
],
"tags": [
{"panel":"price","kind":"last","p":11074.5,"txt":"11074,50"},
{"panel":"price","kind":"fast","p":11051.7,"txt":"11051,70"},
{"panel":"price","kind":"slow","p":11035.42,"txt":"11035,42"},
{"panel":"rsi","kind":"rsi","p":73.9,"txt":"73,9"},
{"panel":"vol","kind":"vol","p":900,"txt":"900"}
],
"trades": [
{"t":875.6,"p":11217,"k":"S"},
{"t":983.3,"p":11030,"k":"M"}
]
},
"vconcat": [
{
"width": 1178, "height": 379,
"layer": [
{"data": {"name": "candles"}, "mark": {"type": "rule", "color": "#3cff3c", "strokeWidth": 1},
 "encoding": {
  "x": {"field": "t", "type": "quantitative", "title": null, "scale": {"domain": [733, 1094.4], "nice": false, "zero": false}, "axis": {"values": [752,771,790,809,828,847,866,885,904,923,942,961,980,999,1018,1037,1056], "tickCount": 100, "labels": false, "grid": true, "title": null}},
  "y": {"field": "l", "type": "quantitative", "title": null, "scale": {"domain": [10952.9, 11309.4], "nice": false, "zero": false}, "axis": {"orient": "right", "values": [10980,11010,11040,11070,11100,11130,11160,11190,11220,11250,11280], "tickCount": 100, "labelExpr": "replace(format(datum.value, '.2f'), '.', ',')", "grid": true, "ticks": true, "tickSize": 3, "tickColor": "#7a7a7a", "labelPadding": 1, "labelOverlap": false, "title": null}},
  "y2": {"field": "h"}}},
{"data": {"name": "candles"}, "mark": {"type": "bar", "width": 2.2, "color": "#3cf03c"},
 "encoding": {
  "x": {"field": "t", "type": "quantitative", "title": null},
  "y": {"field": "o", "type": "quantitative", "title": null},
  "y2": {"field": "c"}}},
{"data": {"name": "ma"}, "mark": {"type": "line", "strokeWidth": 1, "interpolate": "monotone"},
 "encoding": {
  "x": {"field": "t", "type": "quantitative", "title": null},
  "y": {"field": "p", "type": "quantitative", "title": null},
  "color": {"field": "s", "type": "nominal", "scale": {"domain": ["fast", "slow"], "range": ["#cdb800", "#e4e4e4"]}, "legend": null}}},
{"data": {"name": "tags"}, "transform": [{"filter": "datum.kind == 'last'"}], "mark": {"type": "rule", "color": "#ffffff", "strokeWidth": 1.5},
 "encoding": {
  "x": {"datum": 733, "type": "quantitative", "title": null},
  "x2": {"datum": 1094.4},
  "y": {"field": "p", "type": "quantitative", "title": null}}},
{"data": {"name": "tags"}, "transform": [{"filter": "datum.panel == 'price'"}], "mark": {"type": "rect", "yOffset": -8.5, "y2Offset": 8.5},
 "encoding": {
  "x": {"datum": 1094.4, "type": "quantitative", "title": null},
  "x2": {"datum": 1112.6},
  "y": {"field": "p", "type": "quantitative", "title": null},
  "y2": {"field": "p"},
  "fill": {"field": "kind", "type": "nominal", "scale": {"domain": ["last", "fast", "slow"], "range": ["#ffffff", "#ffff00", "#ffffff"]}, "legend": null}}},
{"data": {"name": "tags"}, "transform": [{"filter": "datum.panel == 'price'"}], "mark": {"type": "text", "align": "left", "baseline": "middle", "dx": 2, "fontSize": 12, "color": "#000000"},
 "encoding": {
  "x": {"datum": 1094.4, "type": "quantitative", "title": null},
  "y": {"field": "p", "type": "quantitative", "title": null},
  "text": {"field": "txt"}}},
{"data": {"name": "trades"}, "mark": {"type": "point", "filled": true, "size": 484, "color": "#ffffff", "opacity": 1, "strokeWidth": 0},
 "encoding": {
  "x": {"field": "t", "type": "quantitative", "title": null},
  "y": {"field": "p", "type": "quantitative", "title": null},
  "shape": {"field": "k", "type": "nominal", "scale": {"domain": ["S", "M"], "range": ["M-0.5,-0.43L0.5,-0.43L0.5,-0.73L1.4,0L0.5,0.73L0.5,0.43L-0.5,0.43Z", "M0.5,-0.43L-0.5,-0.43L-0.5,-0.73L-1.4,0L-0.5,0.73L-0.5,0.43L0.5,0.43Z"]}, "legend": null}}},
{"data": {"name": "trades"}, "mark": {"type": "text", "align": "center", "baseline": "middle", "fontSize": 9, "fontWeight": "bold", "color": "#000000"},
 "encoding": {
  "x": {"field": "t", "type": "quantitative", "title": null},
  "y": {"field": "p", "type": "quantitative", "title": null},
  "text": {"field": "k"}}},
{"data": {"values": [{"txt": "MNQZ20"}]}, "mark": {"type": "text", "align": "left", "baseline": "top", "dx": 5, "dy": 3, "fontSize": 12, "color": "#8a8a8a"},
 "encoding": {
  "x": {"datum": 733, "type": "quantitative", "title": null},
  "y": {"datum": 11309.4, "type": "quantitative", "title": null},
  "text": {"field": "txt"}}},
{"data": {"values": [{}]}, "mark": {"type": "rule", "color": "#b4b4b4", "strokeWidth": 6, "yOffset": 3.5},
 "encoding": {
  "x": {"datum": 734.5, "type": "quantitative", "title": null},
  "x2": {"datum": 1113.4},
  "y": {"datum": 10952.9, "type": "quantitative", "title": null}}}
]
},
{
"width": 1178, "height": 187,
"layer": [
{"data": {"name": "rsi"}, "mark": {"type": "line", "color": "#e8e8e8", "strokeWidth": 1},
 "encoding": {
  "x": {"field": "t", "type": "quantitative", "title": null, "scale": {"domain": [733, 1094.4], "nice": false, "zero": false}, "axis": {"values": [752,771,790,809,828,847,866,885,904,923,942,961,980,999,1018,1037,1056], "tickCount": 100, "labels": false, "grid": true, "title": null}},
  "y": {"field": "r", "type": "quantitative", "title": null, "scale": {"domain": [-17.6, 119.9], "nice": false, "zero": false}, "axis": {"orient": "right", "values": [0,20,40,60,80,100], "tickCount": 100, "labelExpr": "replace(format(datum.value, '.1f'), '.', ',')", "grid": true, "ticks": true, "tickSize": 3, "tickColor": "#7a7a7a", "labelPadding": 1, "labelOverlap": false, "title": null}}}},
{"data": {"name": "tags"}, "transform": [{"filter": "datum.panel == 'rsi'"}], "mark": {"type": "rect", "yOffset": -8, "y2Offset": 8, "color": "#ffffff"},
 "encoding": {
  "x": {"datum": 1094.4, "type": "quantitative", "title": null},
  "x2": {"datum": 1112.6},
  "y": {"field": "p", "type": "quantitative", "title": null},
  "y2": {"field": "p"}}},
{"data": {"name": "tags"}, "transform": [{"filter": "datum.panel == 'rsi'"}], "mark": {"type": "text", "align": "left", "baseline": "middle", "dx": 2, "fontSize": 12, "color": "#000000"},
 "encoding": {
  "x": {"datum": 1094.4, "type": "quantitative", "title": null},
  "y": {"field": "p", "type": "quantitative", "title": null},
  "text": {"field": "txt"}}},
{"data": {"values": [{"txt": "Relative Strength Index"}]}, "mark": {"type": "text", "align": "left", "baseline": "top", "dx": 5, "dy": 5, "fontSize": 12, "color": "#8a8a8a"},
 "encoding": {
  "x": {"datum": 733, "type": "quantitative", "title": null},
  "y": {"datum": 119.9, "type": "quantitative", "title": null},
  "text": {"field": "txt"}}},
{"data": {"values": [{}]}, "mark": {"type": "rule", "color": "#b4b4b4", "strokeWidth": 6, "yOffset": 3.5},
 "encoding": {
  "x": {"datum": 734.5, "type": "quantitative", "title": null},
  "x2": {"datum": 1113.4},
  "y": {"datum": -17.6, "type": "quantitative", "title": null}}}
]
},
{
"width": 1178, "height": 192,
"layer": [
{"data": {"name": "candles"}, "mark": {"type": "bar", "width": 1.6, "color": "#1f8f1f"},
 "encoding": {
  "x": {"field": "t", "type": "quantitative", "title": null, "scale": {"domain": [733, 1094.4], "nice": false, "zero": false}, "axis": {"values": [752,771,790,809,828,847,866,885,904,923,942,961,980,999,1018,1037,1056], "tickCount": 100, "labels": true, "grid": true, "labelPadding": 4, "labelOverlap": false, "labelExpr": "floor(datum.value / 60) + ':' + (datum.value % 60 < 10 ? '0' : '') + (datum.value % 60)", "title": null}},
  "y": {"field": "v", "type": "quantitative", "title": null, "scale": {"domain": [0, 10120], "nice": false, "zero": false}, "axis": {"orient": "right", "values": [1000,2000,3000,4000,5000,6000,7000,8000,9000], "tickCount": 100, "labelExpr": "replace(replace(format(datum.value, ',.1f'), ',', ' '), '.', ',')", "grid": true, "ticks": true, "tickSize": 3, "tickColor": "#7a7a7a", "labelPadding": 1, "labelOverlap": false, "title": null}}}},
{"data": {"name": "tags"}, "transform": [{"filter": "datum.panel == 'vol'"}], "mark": {"type": "rect", "yOffset": -8.5, "y2Offset": 8.5, "color": "#0b8a0b"},
 "encoding": {
  "x": {"datum": 1094.4, "type": "quantitative", "title": null},
  "x2": {"datum": 1112.6},
  "y": {"field": "p", "type": "quantitative", "title": null},
  "y2": {"field": "p"}}},
{"data": {"name": "tags"}, "transform": [{"filter": "datum.panel == 'vol'"}], "mark": {"type": "text", "align": "left", "baseline": "middle", "dx": 2, "fontSize": 12, "color": "#a8c8a8"},
 "encoding": {
  "x": {"datum": 1094.4, "type": "quantitative", "title": null},
  "y": {"field": "p", "type": "quantitative", "title": null},
  "text": {"field": "txt"}}},
{"data": {"values": [{"txt": "Volume"}]}, "mark": {"type": "text", "align": "left", "baseline": "top", "dx": 5, "dy": 6, "fontSize": 12, "color": "#8a8a8a"},
 "encoding": {
  "x": {"datum": 733, "type": "quantitative", "title": null},
  "y": {"datum": 10120, "type": "quantitative", "title": null},
  "text": {"field": "txt"}}}
]
}
]
}
